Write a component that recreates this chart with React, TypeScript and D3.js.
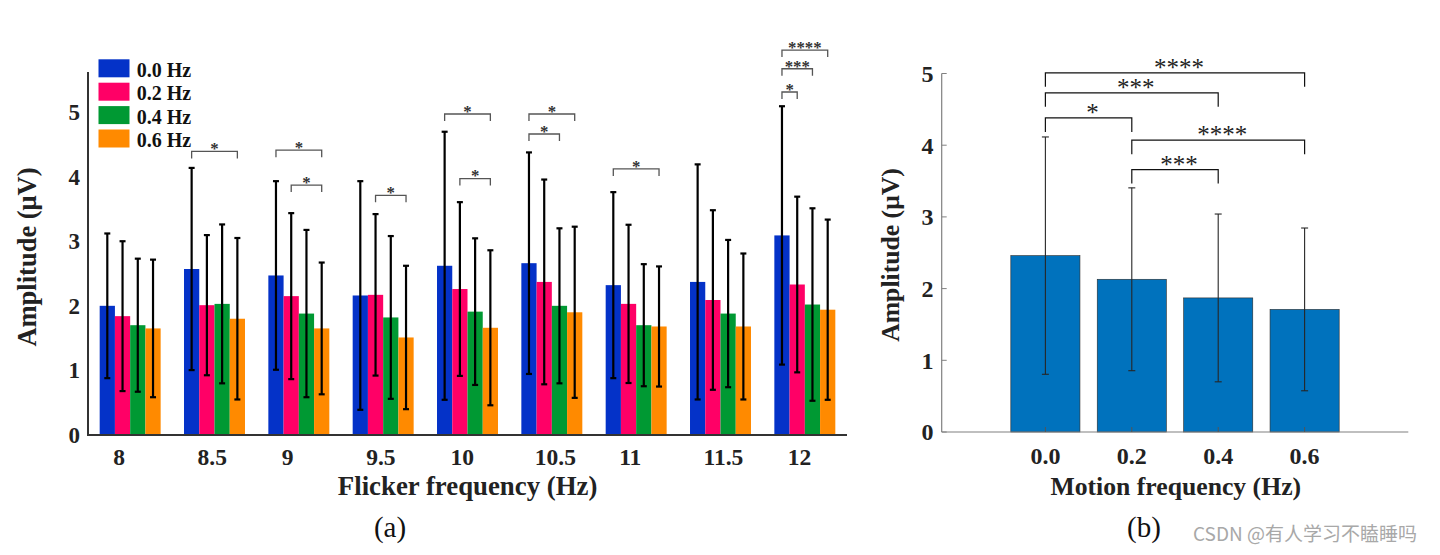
import React from 'react';
import * as d3 from 'd3';

// ---------- Data: panel (a) ----------
const flickerFreqs = ['8', '8.5', '9', '9.5', '10', '10.5', '11', '11.5', '12'];
const motionSeries = ['0.0 Hz', '0.2 Hz', '0.4 Hz', '0.6 Hz'];
const amp00 = [2.0, 2.57, 2.47, 2.16, 2.62, 2.66, 2.32, 2.37, 3.09];
const amp02 = [1.84, 2.01, 2.15, 2.17, 2.26, 2.37, 2.03, 2.09, 2.33];
const amp04 = [1.7, 2.03, 1.88, 1.82, 1.91, 2.0, 1.7, 1.88, 2.02];
const amp06 = [1.65, 1.8, 1.65, 1.51, 1.66, 1.9, 1.68, 1.68, 1.94];
const sd00 = [1.12, 1.565, 1.46, 1.77, 2.075, 1.715, 1.44, 1.82, 2.0];
const sd02 = [1.16, 1.085, 1.285, 1.25, 1.345, 1.585, 1.225, 1.39, 1.36];
const sd04 = [1.03, 1.23, 1.295, 1.26, 1.135, 1.2, 0.945, 1.14, 1.49];
const sd06 = [1.065, 1.25, 1.02, 1.11, 1.2, 1.325, 0.93, 1.13, 1.395];
const yTicksA = [0, 1, 2, 3, 4, 5];

// significance brackets (a)
const sigAGroup = ['8.5', '9', '9', '9.5', '10', '10', '10.5', '10.5', '11', '12', '12', '12'];
const sigAFrom = [0, 0, 1, 1, 0, 1, 0, 0, 0, 0, 0, 0];
const sigATo = [3, 3, 3, 3, 3, 3, 3, 2, 3, 1, 2, 3];
const sigALevel = [4.39, 4.41, 3.87, 3.71, 4.97, 3.97, 4.97, 4.66, 4.12, 5.31, 5.67, 5.96];
const sigALabel = ['*', '*', '*', '*', '*', '*', '*', '*', '*', '*', '***', '****'];

// ---------- Data: panel (b) ----------
const motionFreqs = ['0.0', '0.2', '0.4', '0.6'];
const ampB = [2.46, 2.13, 1.87, 1.71];
const sdB = [1.655, 1.275, 1.17, 1.135];
const yTicksB = [0, 1, 2, 3, 4, 5];
const sigBFrom = [0, 0, 0, 1, 1];
const sigBTo = [3, 2, 1, 3, 2];
const sigBLevel = [5.01, 4.73, 4.38, 4.07, 3.66];
const sigBLabel = ['****', '***', '*', '****', '***'];

const seriesColors = ['#0432C8', '#FF0066', '#009933', '#FF8A00'];
const serif = '"Liberation Serif", "Times New Roman", serif';

function PanelA() {
  const means = [amp00, amp02, amp04, amp06];
  const sds = [sd00, sd02, sd04, sd06];
  const x0 = d3.scaleBand<string>().domain(flickerFreqs).range([88, 847]).paddingInner(0.277).paddingOuter(0.1385);
  const x1 = d3.scaleBand<string>().domain(motionSeries).range([0, x0.bandwidth()]);
  const y = d3.scaleLinear().domain([0, 5.62]).range([435, 72]);
  const barCx = (g: string, s: number) => (x0(g) as number) + (x1(motionSeries[s]) as number) + x1.bandwidth() / 2;
  const legH = 7;

  return (
    <g>
      {/* bars */}
      {flickerFreqs.map((f, gi) => (
        <g key={f}>
          {motionSeries.map((s, si) => (
            <rect
              key={s}
              x={(x0(f) as number) + (x1(s) as number)}
              y={y(means[si][gi])}
              width={x1.bandwidth()}
              height={y(0) - y(means[si][gi])}
              fill={seriesColors[si]}
            />
          ))}
        </g>
      ))}
      {/* error bars */}
      {flickerFreqs.map((f, gi) =>
        motionSeries.map((s, si) => {
          const cx = barCx(f, si);
          const top = y(means[si][gi] + sds[si][gi]);
          const bot = y(means[si][gi] - sds[si][gi]);
          return (
            <g key={f + s} stroke="#000" strokeWidth={2.2}>
              <line x1={cx} x2={cx} y1={top} y2={bot} />
              <line x1={cx - 3} x2={cx + 3} y1={top} y2={top} />
              <line x1={cx - 3} x2={cx + 3} y1={bot} y2={bot} />
            </g>
          );
        })
      )}
      {/* axes */}
      <line x1={88} x2={88} y1={y.range()[1]} y2={y(0)} stroke="#333" strokeWidth={2} />
      <line x1={87} x2={847} y1={y(0)} y2={y(0)} stroke="#333" strokeWidth={2} />
      {yTicksA.map((t) => (
        <text key={t} x={80} y={y(t)} dy="0.35em" textAnchor="end" fontFamily={serif} fontWeight="bold" fontSize={23} fill="#222">
          {t}
        </text>
      ))}
      {flickerFreqs.map((f) => (
        <text key={f} x={(x0(f) as number) + x0.bandwidth() / 2 - 17} y={465} textAnchor="start" fontFamily={serif} fontWeight="bold" fontSize={23.5} fill="#222">
          {f}
        </text>
      ))}
      <text x={467.6} y={495} textAnchor="middle" fontFamily={serif} fontWeight="bold" fontSize={26.8} fill="#222">
        Flicker frequency (Hz)
      </text>
      <text transform={`translate(36,257) rotate(-90)`} textAnchor="middle" fontFamily={serif} fontWeight="bold" fontSize={26.5} fill="#222">
        Amplitude (μV)
      </text>
      {/* significance */}
      {sigAGroup.map((g, i) => {
        const xa = barCx(g, sigAFrom[i]);
        const xb = barCx(g, sigATo[i]);
        const yy = y(sigALevel[i]);
        return (
          <g key={'sa' + i}>
            <path d={`M${xa},${yy + legH}V${yy}H${xb}V${yy + legH}`} fill="none" stroke="#555" strokeWidth={1.3} />
            <text x={(xa + xb) / 2} y={yy + 2.8} textAnchor="middle" fontFamily={serif} fontWeight="bold" fontSize={16.8} fill="#333">
              {sigALabel[i]}
            </text>
          </g>
        );
      })}
      {/* legend */}
      {motionSeries.map((s, i) => (
        <g key={'lg' + s}>
          <rect x={98.5} y={59.3 + i * 23.4} width={31} height={18} fill={seriesColors[i]} />
          <text x={136.7} y={76.7 + i * 23.4} fontFamily={serif} fontWeight="bold" fontSize={20} fill="#111">
            {s}
          </text>
        </g>
      ))}
      <text x={390} y={537} textAnchor="middle" fontFamily={serif} fontSize={29} fill="#111">
        (a)
      </text>
    </g>
  );
}

function PanelB() {
  const x = d3.scaleLinear().domain([-1.2, 4.2]).range([941.7, 1408.3]);
  const step = x(1) - x(0);
  const bw = step * 0.8;
  const y = d3.scaleLinear().domain([0, 5]).range([432, 73.5]);
  const legH = 14;
  return (
    <g>
      {motionFreqs.map((m, i) => (
        <rect key={m} x={x(i) - bw / 2} y={y(ampB[i])} width={bw} height={y(0) - y(ampB[i])} fill="#0072BD" stroke="#2a2a2a" strokeWidth={0.6} />
      ))}
      {/* axes */}
      <line x1={941.7} x2={941.7} y1={y(5)} y2={y(0)} stroke="#808080" strokeWidth={1.2} />
      <line x1={941.7} x2={1408.3} y1={y(0)} y2={y(0)} stroke="#808080" strokeWidth={1.2} />
      {yTicksB.map((t) => (
        <g key={t}>
          <line x1={941.7} x2={946.7} y1={y(t)} y2={y(t)} stroke="#808080" strokeWidth={1} />
          <text x={933.5} y={y(t)} dy="0.35em" textAnchor="end" fontFamily={serif} fontWeight="bold" fontSize={24} fill="#222">
            {t}
          </text>
        </g>
      ))}
      {motionFreqs.map((m, i) => (
        <g key={'xt' + m}>
          <line x1={x(i)} x2={x(i)} y1={y(0)} y2={y(0) - 5} stroke="#555" strokeWidth={1} />
          <text x={x(i)} y={464} textAnchor="middle" fontFamily={serif} fontWeight="bold" fontSize={24} fill="#222">
            {m}
          </text>
        </g>
      ))}
      {/* error bars */}
      {motionFreqs.map((m, i) => {
        const top = y(ampB[i] + sdB[i]);
        const bot = y(ampB[i] - sdB[i]);
        const cx = x(i);
        return (
          <g key={'eb' + m} stroke="#262626" strokeWidth={1.1}>
            <line x1={cx} x2={cx} y1={top} y2={bot} />
            <line x1={cx - 3.5} x2={cx + 3.5} y1={top} y2={top} />
            <line x1={cx - 3.5} x2={cx + 3.5} y1={bot} y2={bot} />
          </g>
        );
      })}
      <text x={1175.8} y={495} textAnchor="middle" fontFamily={serif} fontWeight="bold" fontSize={25.7} fill="#222">
        Motion frequency (Hz)
      </text>
      <text transform={`translate(898.5,255) rotate(-90)`} textAnchor="middle" fontFamily={serif} fontWeight="bold" fontSize={25.7} fill="#222">
        Amplitude (μV)
      </text>
      {sigBFrom.map((a, i) => {
        const xa = x(a);
        const xb = x(sigBTo[i]);
        const yy = y(sigBLevel[i]);
        return (
          <g key={'sb' + i}>
            <path d={`M${xa},${yy + legH}V${yy}H${xb}V${yy + legH}`} fill="none" stroke="#111" strokeWidth={1.2} />
            <text x={(xa + xb) / 2 + 4} y={yy + 3} textAnchor="middle" fontFamily={serif} fontSize={25} fill="#222">
              {sigBLabel[i]}
            </text>
          </g>
        );
      })}
      <text x={1144} y={537} textAnchor="middle" fontFamily={serif} fontSize={29} fill="#111">
        (b)
      </text>
      <text x={1193} y={541} fontFamily={'"Noto Sans CJK SC", "Noto Sans", sans-serif'} fontSize={19} fill="#a8a8a8">
        CSDN @有人学习不瞌睡吗
      </text>
    </g>
  );
}

export default function App() {
  return (
    <svg width={1440} height={555} style={{ position: 'absolute', left: 0, top: 0, background: '#fff' }}>
      <rect width={1440} height={555} fill="#fff" />
      <PanelA />
      <PanelB />
    </svg>
  );
}
